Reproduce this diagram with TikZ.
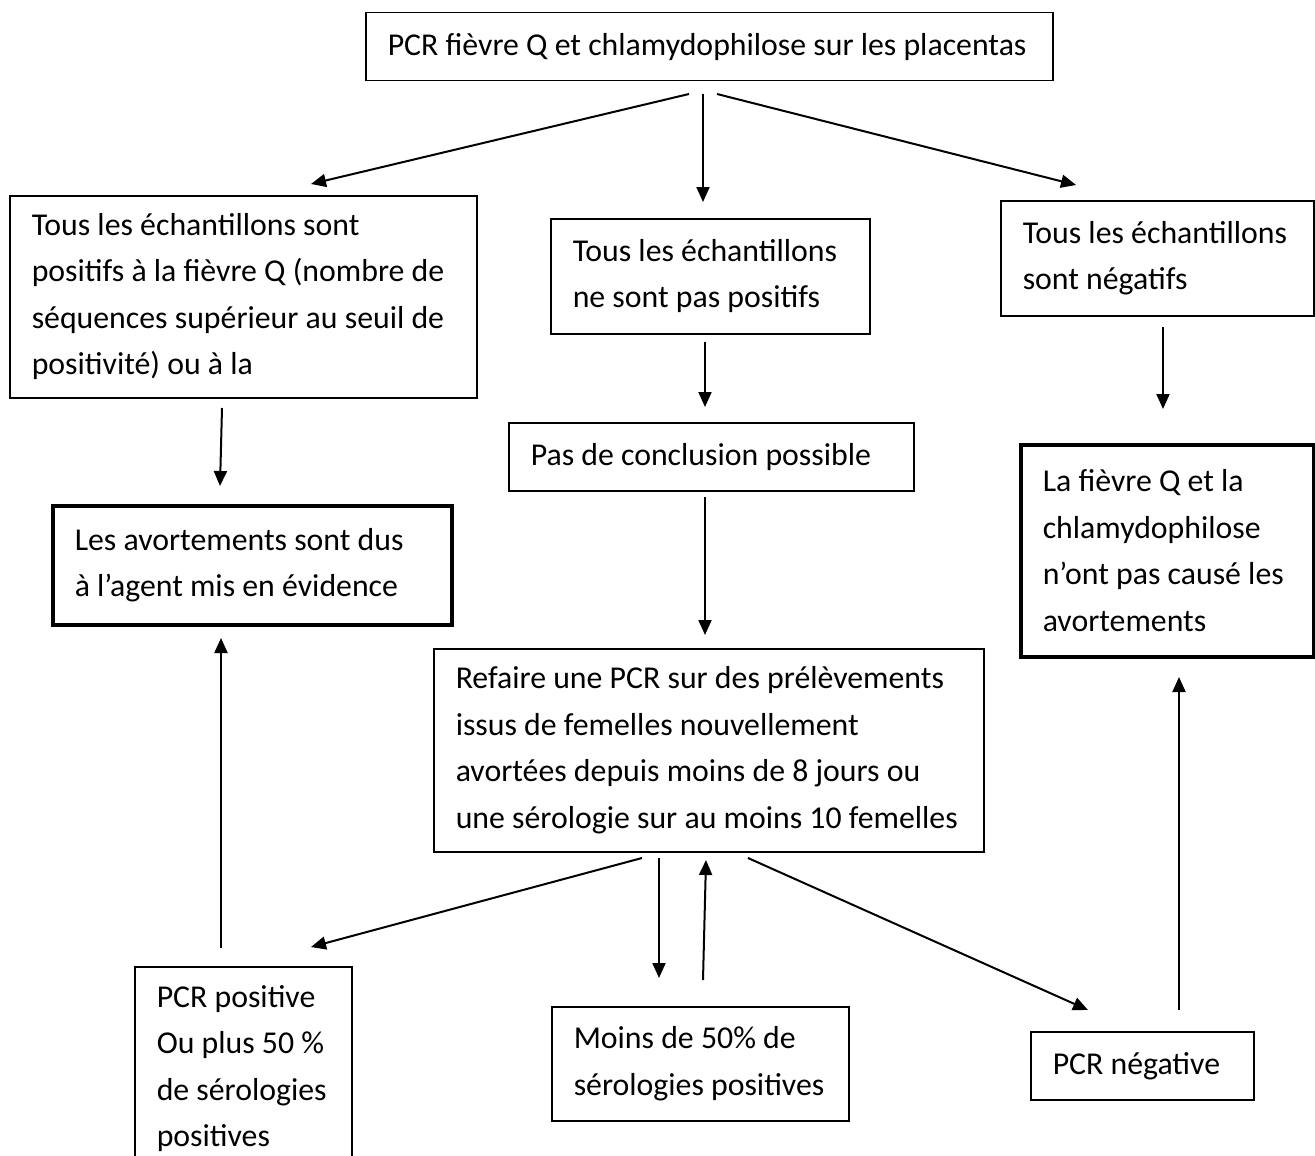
\documentclass[tikz,border=0pt]{standalone}
\usepackage{fontspec}
\setmainfont{Carlito}
\usetikzlibrary{arrows.meta}

\begin{document}
\begin{tikzpicture}[x=1pt,y=-1pt,
  box/.style={draw, line width=1.5pt, inner xsep=22pt, inner ysep=0pt,
    align=flush left, anchor=north west,
    font=\fontsize{31.8}{46.5}\selectfont},
  heavy/.style={box, line width=3.5pt},
  flow/.style={line width=2pt, -{Triangle[length=15pt,width=13pt]}}]

\useasboundingbox (0,0) rectangle (1315,1156);
\clip (0,0) rectangle (1315,1156);

% boxes (top-left corner, width, height)
\node[box, text width=643pt, minimum height=68pt] (top) at (365,12)
  {PCR fièvre Q et chlamydophilose sur les placentas};
\node[box, text width=423pt, minimum height=202pt] (allpos) at (9,195)
  {Tous les échantillons sont\\positifs à la fièvre Q (nombre de\\séquences supérieur au seuil de\\positivité) ou à la};
\node[box, text width=275pt, minimum height=115pt] (notall) at (550,218)
  {Tous les échantillons\\ne sont pas positifs};
\node[box, text width=269pt, minimum height=115pt] (allneg) at (1000,200)
  {Tous les échantillons\\sont négatifs};
\node[box, text width=361pt, minimum height=68pt] (nocon) at (508,422)
  {Pas de conclusion possible};
\node[heavy, text width=355pt, minimum height=119pt] (cause) at (51,504)
  {Les avortements sont dus\\à l’agent mis en évidence};
\node[heavy, text width=249pt, minimum height=212pt] (nocause) at (1019,443)
  {La fièvre Q et la\\chlamydophilose\\n’ont pas causé les\\avortements};
\node[box, text width=506pt, minimum height=203pt] (redo) at (433,648)
  {Refaire une PCR sur des prélèvements\\issus de femelles nouvellement\\avortées depuis moins de 8 jours ou\\une sérologie sur au moins 10 femelles};
\node[box, text width=173pt, minimum height=204pt] (pcrpos) at (134,966)
  {PCR positive\\Ou plus 50 \%\\de sérologies\\positives};
\node[box, text width=253pt, minimum height=114pt] (less) at (551,1006)
  {Moins de 50\% de\\sérologies positives};
\node[box, text width=179pt, minimum height=68pt] (pcrneg) at (1030,1031)
  {PCR négative};

% arrow end points
\coordinate (t-l) at (689,94);   \coordinate (allpos-in) at (311,184);
\coordinate (t-m) at (703,94);   \coordinate (notall-in) at (703,202);
\coordinate (t-r) at (717,94);   \coordinate (allneg-in) at (1076,185);
\coordinate (allpos-out) at (222,408); \coordinate (cause-in) at (220,486);
\coordinate (notall-out) at (705,342); \coordinate (nocon-in) at (705,407);
\coordinate (allneg-out) at (1163,327); \coordinate (nocause-in) at (1163,409);
\coordinate (nocon-out) at (705,497); \coordinate (redo-in) at (705,635);
\coordinate (pcrpos-out) at (221,948); \coordinate (cause-up) at (221,638);
\coordinate (pcrneg-out) at (1179,1010); \coordinate (nocause-up) at (1179,677);
\coordinate (redo-l) at (642,858); \coordinate (pcrpos-in) at (311,947);
\coordinate (redo-m) at (659,858); \coordinate (less-in) at (659,978);
\coordinate (less-out) at (703,980); \coordinate (redo-back) at (706,860);
\coordinate (redo-r) at (748,858); \coordinate (pcrneg-in) at (1088,1010);

% connectors
\draw[flow] (t-l) -- (allpos-in);
\draw[flow] (t-m) -- (notall-in);
\draw[flow] (t-r) -- (allneg-in);
\draw[flow] (allpos-out) -- (cause-in);
\draw[flow] (notall-out) -- (nocon-in);
\draw[flow] (allneg-out) -- (nocause-in);
\draw[flow] (nocon-out) -- (redo-in);
\draw[flow] (pcrpos-out) -- (cause-up);
\draw[flow] (pcrneg-out) -- (nocause-up);
\draw[flow] (redo-l) -- (pcrpos-in);
\draw[flow] (redo-m) -- (less-in);
\draw[flow] (less-out) -- (redo-back);
\draw[flow] (redo-r) -- (pcrneg-in);
\end{tikzpicture}
\end{document}
